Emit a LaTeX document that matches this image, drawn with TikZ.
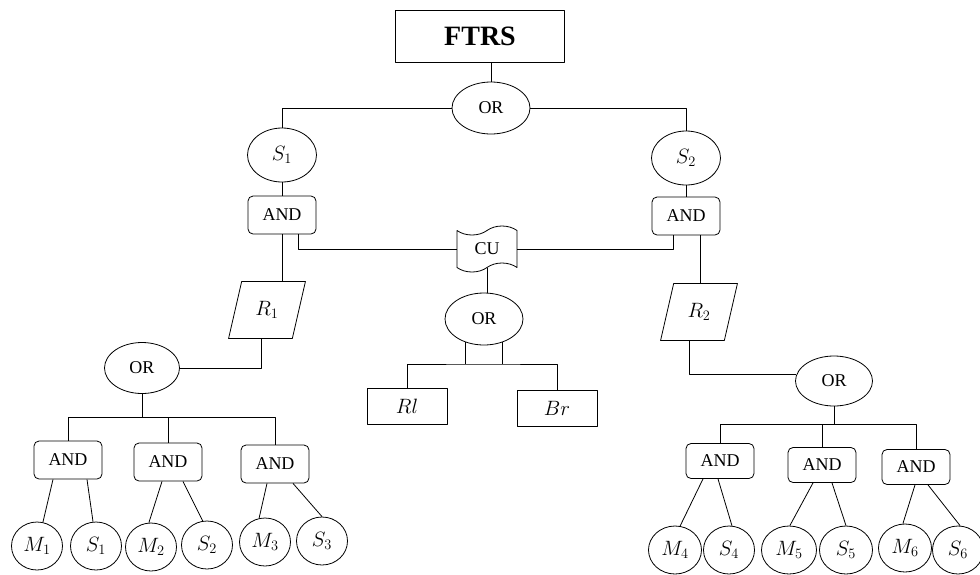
\documentclass[tikz,border=0pt]{standalone}
\usepackage{fontspec}
\setmainfont{Liberation Serif}
\usetikzlibrary{shapes.geometric,shapes.symbols}

\begin{document}
\begin{tikzpicture}[x=1pt,y=-1pt,line width=0.8pt,line join=round,
		txt/.style={font=\fontsize{18}{21}\selectfont},
		orgate/.style={draw,ellipse,inner sep=0pt,minimum width=78pt,minimum height=52pt,txt},
		andgate/.style={draw,rectangle,rounded corners=5pt,inner sep=0pt,minimum width=68pt,minimum height=38pt,txt},
		sysnode/.style={draw,ellipse,inner sep=0pt,minimum width=69pt,minimum height=54pt,font=\fontsize{21}{24}\selectfont},
		leaf/.style={draw,ellipse,inner sep=0pt,minimum width=51pt,minimum height=48pt,font=\fontsize{19.5}{22}\selectfont},
		relnode/.style={draw,trapezium,trapezium left angle=71,trapezium right angle=109,trapezium stretches=true,
			inner sep=0pt,minimum width=77pt,minimum height=57pt,font=\fontsize{21}{24}\selectfont},
		outbox/.style={draw,rectangle,inner sep=0pt,minimum width=80pt,minimum height=36pt,font=\fontsize{21}{24}\selectfont}]
	\useasboundingbox (0,0) rectangle (980,574);
	
	% top of the tree
	\node[draw,rectangle,inner sep=0pt,minimum width=169pt,minimum height=52pt,font=\fontsize{28}{31}\bfseries] (ftrs) at (480,36) {FTRS};
	\node[orgate] (ortop) at (491,108) {OR};
	\node[sysnode] (sa) at (282,155) {$S_1$};
	\node[sysnode] (sb) at (686,158) {$S_2$};
	\node[andgate] (anda) at (282,215) {AND};
	\node[andgate] (andb) at (686,216) {AND};
	\node[draw,tape,inner sep=0pt,minimum width=60pt,minimum height=46pt,tape bend height=9pt,txt] (cu) at (487,249) {CU};
	\node[relnode] (ra) at (267,310) {$R_1$};
	\node[relnode] (rb) at (699,312) {$R_2$};
	
	\draw (ortop.north) -- (ortop.north |- ftrs.south);
	\draw (ortop.west) -| (sa.north);
	\draw (ortop.east) -| (sb.north);
	\draw (sa.south) -- (anda.north);
	\draw (sb.south) -- (andb.north);
	\draw ([xshift=16pt]anda.south) |- (cu.west);
	\draw ([xshift=-13pt]andb.south) |- (cu.east);
	\draw (anda.south) -- (anda.south |- ra.north);
	\draw ([xshift=14pt]andb.south) -- ([xshift=14pt]andb.south |- rb.north);
	
	% middle branch
	\node[orgate] (ormid) at (484,319) {OR};
	\node[outbox] (rl) at (407,406) {$Rl$};
	\node[outbox] (br) at (557,408) {$Br$};
	\coordinate (busmid) at (484,364);
	
	\draw (cu.south) -- (cu.south |- ormid.north);
	\draw (ormid.-128) -- (ormid.-128 |- busmid);
	\draw (ormid.-52) -- (ormid.-52 |- busmid);
	\draw (rl.north) |- (busmid) -| (br.north);
	
	% left branch
	\node[orgate,minimum width=75pt,minimum height=51pt] (orleft) at (142,368) {OR};
	\coordinate (busleft) at (142,417);
	\node[andgate] (andl1) at (68,460) {AND};
	\node[andgate] (andl2) at (168,462) {AND};
	\node[andgate] (andl3) at (275,464) {AND};
	\node[leaf] (m1) at (37,546) {$M_1$};
	\node[leaf] (s1) at (96,546) {$S_1$};
	\node[leaf] (m2) at (151,547) {$M_2$};
	\node[leaf] (s2) at (207,545) {$S_2$};
	\node[leaf] (m3) at (265,542) {$M_3$};
	\node[leaf] (s3) at (322,541) {$S_3$};
	
	\draw ([xshift=-6pt]ra.south) |- (orleft.east);
	\draw (orleft.south) -- (busleft);
	\draw (andl1.north) |- (busleft);
	\draw (andl2.north) |- (busleft);
	\draw (andl3.north) |- (busleft);
	\draw ([xshift=-15pt]andl1.south) -- (m1.76);
	\draw ([xshift=19pt]andl1.south) -- (s1.97);
	\draw ([xshift=-6pt]andl2.south) -- (m2.95);
	\draw ([xshift=15pt]andl2.south) -- (s2.100);
	\draw ([xshift=-8pt]andl3.south) -- (m3.104);
	\draw ([xshift=18pt]andl3.south) -- (s3.north);
	
	% right branch
	\node[orgate,minimum width=77pt,minimum height=50pt] (orright) at (834,381) {OR};
	\coordinate (busright) at (834,424);
	\node[andgate,minimum height=35pt] (andr1) at (720,461) {AND};
	\node[andgate,minimum height=35pt] (andr2) at (822,465) {AND};
	\node[andgate,minimum height=35pt] (andr3) at (916,467) {AND};
	\node[leaf,minimum width=53pt] (m4) at (675,550) {$M_4$};
	\node[leaf] (s4) at (729,550) {$S_4$};
	\node[leaf,minimum width=55pt] (m5) at (789,550) {$M_5$};
	\node[leaf,minimum width=53pt] (s5) at (846,550) {$S_5$};
	\node[leaf,minimum width=53pt] (m6) at (905,548) {$M_6$};
	\node[leaf] (s6) at (958,550) {$S_6$};
	
	\draw ([xshift=-10pt]rb.south) |- (orright.170);
	\draw (orright.south) -- (busright);
	\draw (andr1.north) |- (busright);
	\draw (andr2.north) |- (busright);
	\draw (andr3.north) |- (busright);
	\draw ([xshift=-17pt]andr1.south) -- (m4.78);
	\draw ([xshift=-2pt]andr1.south) -- (s4.83);
	\draw ([xshift=-9pt]andr2.south) -- (m5.88);
	\draw ([xshift=10pt]andr2.south) -- (s5.north);
	\draw ([xshift=-1pt]andr3.south) -- (m6.95);
	\draw ([xshift=12pt]andr3.south) -- (s6.85);
\end{tikzpicture}
\end{document}
